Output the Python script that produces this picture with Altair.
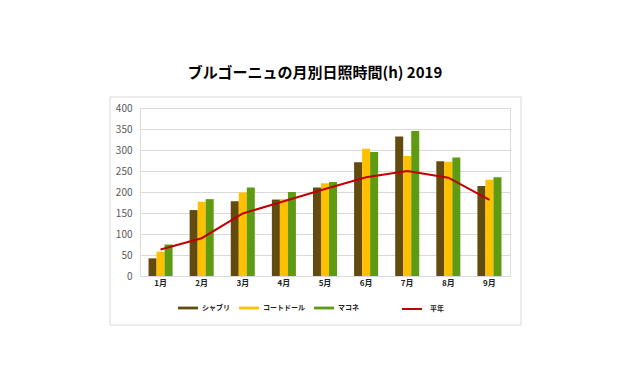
import altair as alt
import pandas as pd

months = ["1月", "2月", "3月", "4月", "5月", "6月", "7月", "8月", "9月"]
series = ["シャブリ", "コートドール", "マコネ"]
chablis = [42, 157, 178, 182, 211, 271, 332, 273, 214]
cotedor = [58, 177, 199, 183, 221, 303, 286, 272, 229]
maconnais = [75, 183, 211, 200, 224, 295, 345, 282, 235]
normal = [63, 90, 149, 178, 207, 235, 250, 234, 181]
colors = ["#634B0F", "#FFC000", "#5E9B12"]
yticks = [0, 50, 100, 150, 200, 250, 300, 350, 400]

rows = []
for name, vals in zip(series, [chablis, cotedor, maconnais]):
    for m, v in zip(months, vals):
        rows.append({"month": m, "series": name, "hours": v})
bars_df = pd.DataFrame(rows)
line_df = pd.DataFrame({"month": months, "hours": normal, "series": ["平年"] * len(months)})

font = "Noto Sans CJK JP"

xscale = alt.Scale(paddingInner=0.415, paddingOuter=0.2075)
yscale = alt.Scale(domain=[0, 400], nice=False)
yaxis = alt.Axis(values=yticks, tickCount=9, grid=True, gridColor="#D9D9D9",
                 domain=False, ticks=False, labelFont=font, labelFontSize=10,
                 labelColor="#595959", labelPadding=8, labelOverlap=False)
xaxis = alt.Axis(labelAngle=0, ticks=False, domain=True, domainColor="#D9D9D9",
                 labelFont=font, labelFontSize=8, labelFontWeight="bold",
                 labelColor="#222222", labelPadding=3)

bars = alt.Chart(bars_df).mark_bar().encode(
    x=alt.X("month:N", sort=months, scale=xscale, title=None, axis=xaxis),
    xOffset=alt.XOffset("series:N", sort=series, scale=alt.Scale(paddingInner=0, paddingOuter=0)),
    y=alt.Y("hours:Q", scale=yscale, title=None, axis=yaxis),
    color=alt.Color("series:N", sort=series,
                    scale=alt.Scale(domain=series, range=colors),
                    legend=alt.Legend(title=None, orient="none", legendX=38, legendY=190,
                                      direction="horizontal",
                                      symbolType="M-1,-0.14H1V0.14H-1Z", symbolSize=400,
                                      symbolStrokeWidth=0, labelFont=font, labelFontSize=7,
                                      labelFontWeight="bold", labelColor="#222222",
                                      columnPadding=9, labelOffset=4)),
)

line = alt.Chart(line_df).mark_line(strokeWidth=2).encode(
    x=alt.X("month:N", sort=months, scale=xscale, title=None, axis=xaxis),
    y=alt.Y("hours:Q", scale=yscale, title=None, axis=yaxis),
    stroke=alt.Stroke("series:N", scale=alt.Scale(domain=["平年"], range=["#C00000"]),
                      legend=alt.Legend(title=None, orient="none", legendX=261, legendY=190,
                                        symbolType="stroke", symbolSize=400, symbolStrokeWidth=2,
                                        labelFont=font, labelFontSize=7, labelFontWeight="bold",
                                        labelColor="#222222", labelOffset=7)),
)

border = alt.Chart(alt.Data(values=[{"a": 1}])).mark_rect(
    fill="transparent", stroke="#D9D9D9", strokeWidth=1
).encode(
    x=alt.value(-30), x2=alt.value(381), y=alt.value(-11), y2=alt.value(217)
)

chart = alt.layer(border, bars, line).resolve_scale(color="independent").properties(
    width=370, height=168,
    autosize=alt.AutoSizeParams(type="none"),
    padding={"left": 132, "top": 100, "right": 122, "bottom": 86},
    title=alt.TitleParams("ブルゴーニュの月別日照時間(h) 2019", font=font, fontSize=15,
                          fontWeight="bold", color="#000000", anchor="middle", offset=16, dx=-10),
).configure_view(stroke=None).configure(background="white")

chart.save("out.html", embed_options={"renderer": "svg", "actions": False})
